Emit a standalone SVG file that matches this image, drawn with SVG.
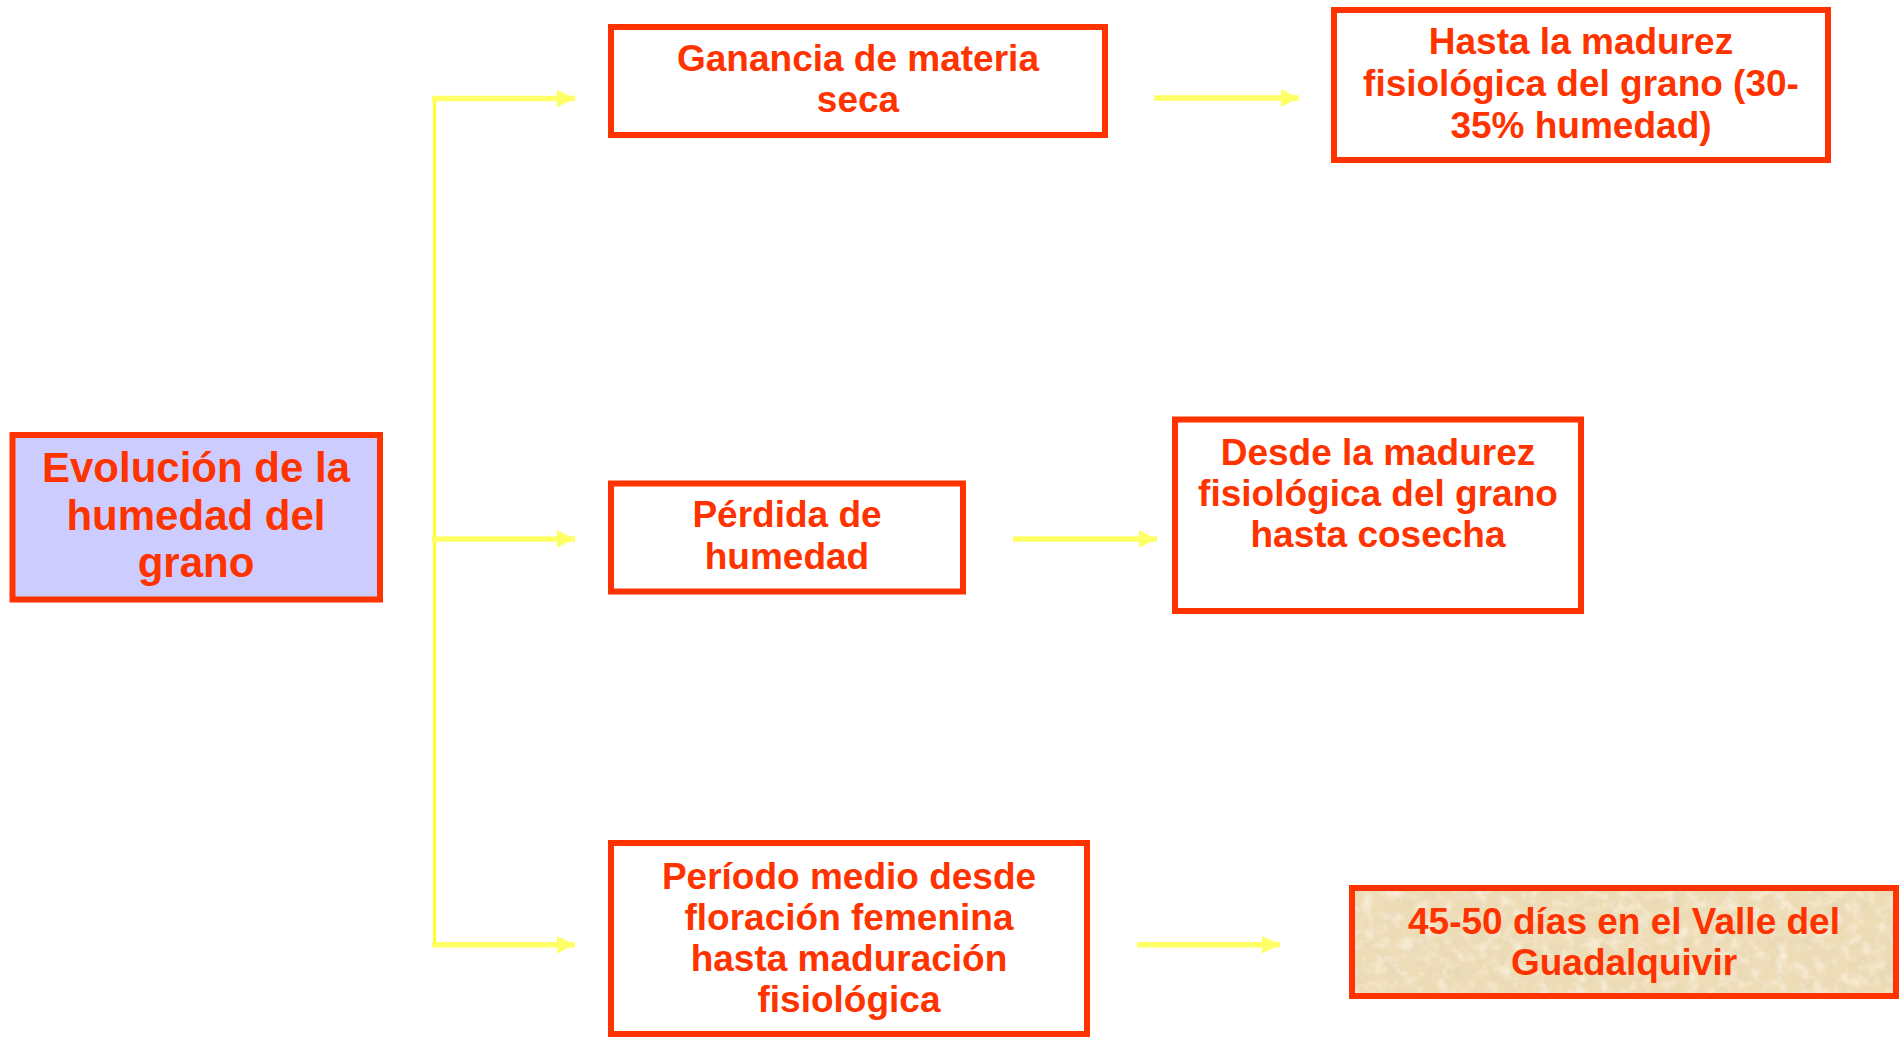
<svg xmlns="http://www.w3.org/2000/svg" width="1899" height="1041" viewBox="0 0 1899 1041">
  <style>
    .box { fill: #ffffff; stroke: #ff3300; stroke-width: 6; }
    .t { font-family: "Liberation Sans", Arial, sans-serif; font-weight: bold; font-size: 37px; fill: #ff3300; text-anchor: middle; }
    .tl { font-size: 42px; }
    .trunk { stroke: #ffff00; stroke-width: 2.5; fill: none; }
    .arr { stroke: #ffff66; stroke-width: 5.5; fill: none; marker-end: url(#ah); }
  </style>
  <defs>
    <marker id="ah" markerUnits="userSpaceOnUse" markerWidth="18" markerHeight="18" refX="18" refY="9" orient="auto">
      <path d="M0,0.3 L18,9 L0,17.7 z" fill="#ffff66"/>
    </marker>
    <filter id="parch" x="0" y="0" width="100%" height="100%">
      <feTurbulence type="fractalNoise" baseFrequency="0.06" numOctaves="4" seed="7"/>
      <feColorMatrix type="matrix" values="0 0 0 0 0.78  0 0 0 0 0.68  0 0 0 0 0.48  0 0 0 2.2 -0.95"/>
    </filter>
    <filter id="parch2" x="0" y="0" width="100%" height="100%">
      <feTurbulence type="fractalNoise" baseFrequency="0.08" numOctaves="3" seed="21"/>
      <feColorMatrix type="matrix" values="0 0 0 0 0.98  0 0 0 0 0.94  0 0 0 0 0.84  0 0 0 2.2 -1.0"/>
    </filter>
  </defs>
  <rect width="1899" height="1041" fill="#ffffff"/>

  <g id="connectors">
    <line class="trunk" x1="434.5" y1="97" x2="434.5" y2="945"/>
    <line class="arr" x1="432" y1="98.5" x2="575" y2="98.5"/>
    <line class="arr" x1="432" y1="539" x2="575" y2="539"/>
    <line class="arr" x1="432" y1="944.7" x2="575" y2="944.7"/>
    <line class="arr" x1="1154" y1="98" x2="1299" y2="98"/>
    <line class="arr" x1="1013" y1="539" x2="1157" y2="539"/>
    <line class="arr" x1="1137" y1="944.7" x2="1280" y2="944.7"/>
  </g>

  <g id="node-evolucion">
    <rect x="12.5" y="435" width="367.5" height="164.5" fill="#ccccff" stroke="#ff3300" stroke-width="6"/>
    <text class="t tl" x="196" y="482">Evolución de la</text>
    <text class="t tl" x="196" y="530">humedad del</text>
    <text class="t tl" x="196" y="577">grano</text>
  </g>

  <g id="node-ganancia">
    <rect class="box" x="611" y="27" width="494" height="108"/>
    <text class="t" x="858" y="71">Ganancia de materia</text>
    <text class="t" x="858" y="112">seca</text>
  </g>

  <g id="node-hasta">
    <rect class="box" x="1334" y="10" width="494" height="150"/>
    <text class="t" x="1581" y="54">Hasta la madurez</text>
    <text class="t" x="1581" y="96">fisiológica del grano (30-</text>
    <text class="t" x="1581" y="137.5">35% humedad)</text>
  </g>

  <g id="node-perdida">
    <rect class="box" x="611" y="483.5" width="352" height="108"/>
    <text class="t" x="787" y="527">Pérdida de</text>
    <text class="t" x="787" y="569">humedad</text>
  </g>

  <g id="node-desde">
    <rect class="box" x="1175" y="419.5" width="406" height="191.5"/>
    <text class="t" x="1378" y="464.5">Desde la madurez</text>
    <text class="t" x="1378" y="506">fisiológica del grano</text>
    <text class="t" x="1378" y="547">hasta cosecha</text>
  </g>

  <g id="node-periodo">
    <rect class="box" x="611" y="843" width="476" height="191"/>
    <text class="t" x="849" y="888.5">Período medio desde</text>
    <text class="t" x="849" y="929.5">floración femenina</text>
    <text class="t" x="849" y="971">hasta maduración</text>
    <text class="t" x="849" y="1012">fisiológica</text>
  </g>

  <g id="node-dias">
    <rect x="1352" y="888" width="544" height="108" fill="#eedcb6"/>
    <rect x="1352" y="888" width="544" height="108" filter="url(#parch)" opacity="0.7"/>
    <rect x="1352" y="888" width="544" height="108" filter="url(#parch2)" opacity="0.7"/>
    <rect x="1352" y="888" width="544" height="108" fill="none" stroke="#ff3300" stroke-width="6"/>
    <text class="t" x="1624" y="933.5">45-50 días en el Valle del</text>
    <text class="t" x="1624" y="975">Guadalquivir</text>
  </g>
</svg>
